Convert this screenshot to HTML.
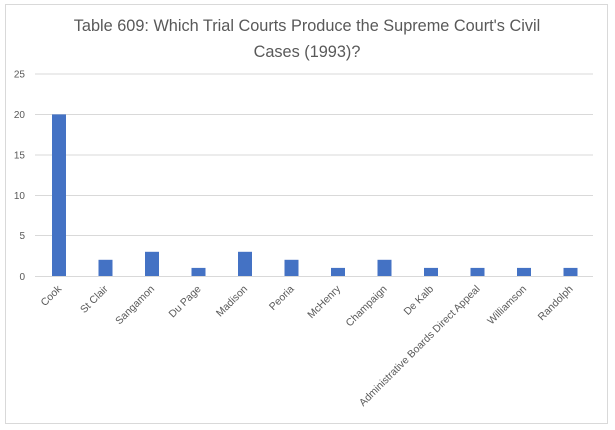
<!DOCTYPE html>
<html><head><meta charset="utf-8"><style>
html,body{margin:0;padding:0;background:#fff;}
svg{display:block;}
text{font-family:"Liberation Sans",sans-serif;fill:#595959;}
</style></head><body>
<svg width="615" height="430" viewBox="0 0 615 430" xmlns="http://www.w3.org/2000/svg">
<rect x="0" y="0" width="615" height="430" fill="#fff"/>
<rect x="5.5" y="4.5" width="602" height="419" fill="#fff" stroke="#d9d9d9" stroke-width="1"/>
<text x="307" y="31" font-size="16.3" text-anchor="middle">Table 609: Which Trial Courts Produce the Supreme Court's Civil</text>
<text x="307" y="57" font-size="16.3" text-anchor="middle">Cases (1993)?</text>
<g stroke="#d9d9d9" stroke-width="1">
<line x1="35" y1="74" x2="593" y2="74"/>
<line x1="35" y1="114.5" x2="593" y2="114.5"/>
<line x1="35" y1="155" x2="593" y2="155"/>
<line x1="35" y1="195.5" x2="593" y2="195.5"/>
<line x1="35" y1="235.5" x2="593" y2="235.5"/>
<line x1="35" y1="276.5" x2="593" y2="276.5"/>
</g>
<g font-size="10" text-anchor="end">
<text x="25" y="77.5">25</text>
<text x="25" y="118">20</text>
<text x="25" y="158.5">15</text>
<text x="25" y="199">10</text>
<text x="25" y="239">5</text>
<text x="25" y="280">0</text>
</g>
<g fill="#4472c4">
<rect x="52" y="114.4" width="14" height="161.6"/>
<rect x="98.5" y="259.8" width="14" height="16.2"/>
<rect x="145" y="251.8" width="14" height="24.2"/>
<rect x="191.5" y="267.9" width="14" height="8.1"/>
<rect x="238" y="251.8" width="14" height="24.2"/>
<rect x="284.5" y="259.8" width="14" height="16.2"/>
<rect x="331" y="267.9" width="14" height="8.1"/>
<rect x="377.5" y="259.8" width="14" height="16.2"/>
<rect x="424" y="267.9" width="14" height="8.1"/>
<rect x="470.5" y="267.9" width="14" height="8.1"/>
<rect x="517" y="267.9" width="14" height="8.1"/>
<rect x="563.5" y="267.9" width="14" height="8.1"/>
</g>
<g font-size="10.4" text-anchor="end">
<text transform="translate(62,289.5) rotate(-45)">Cook</text>
<text transform="translate(108.5,289.5) rotate(-45)">St Clair</text>
<text transform="translate(155,289.5) rotate(-45)">Sangamon</text>
<text transform="translate(201.5,289.5) rotate(-45)">Du Page</text>
<text transform="translate(248,289.5) rotate(-45)">Madison</text>
<text transform="translate(294.5,289.5) rotate(-45)">Peoria</text>
<text transform="translate(341,289.5) rotate(-45)">McHenry</text>
<text transform="translate(387.5,289.5) rotate(-45)">Champaign</text>
<text transform="translate(434,289.5) rotate(-45)">De Kalb</text>
<text transform="translate(480.5,289.5) rotate(-45)">Administrative Boards Direct Appeal</text>
<text transform="translate(527,289.5) rotate(-45)">Williamson</text>
<text transform="translate(573.5,289.5) rotate(-45)">Randolph</text>
</g>
</svg>
</body></html>
